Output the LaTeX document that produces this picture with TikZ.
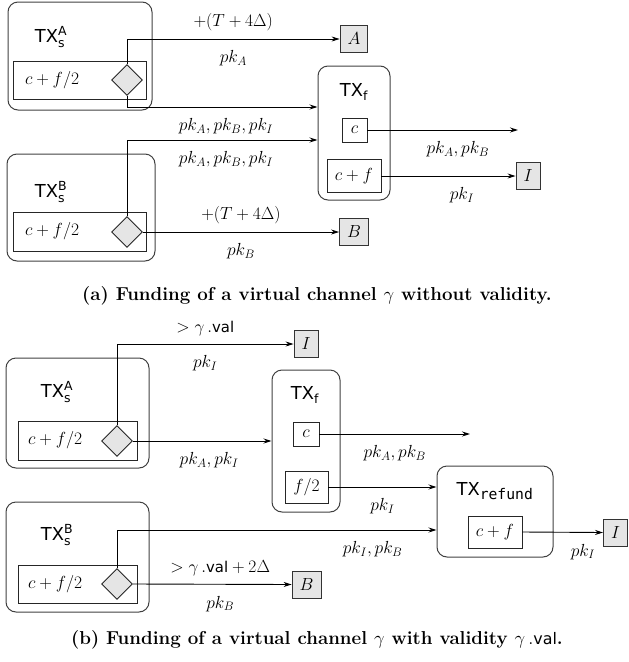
\documentclass[tikz,border=0pt]{standalone}
\usepackage{fix-cm}
\usepackage{amsmath,amssymb}
\usepackage{fontspec}
\setsansfont[Scale=0.85]{DejaVu Sans}
\setmonofont{DejaVu Sans Mono}
\usetikzlibrary{arrows.meta,positioning,calc,shapes.geometric}

\begin{document}
\begin{tikzpicture}[
  x=1pt, y=-1pt,
  >={Stealth[length=8pt, width=5pt]},
  font=\fontsize{17.5}{20}\selectfont,
  txbox/.style={draw=black!75, line width=1pt, rounded corners=10pt, inner sep=0pt},
  outbox/.style={draw=black!85, line width=0.9pt, inner sep=0pt},
  party/.style={draw=black!80, line width=0.9pt, fill=black!10, minimum width=24pt,
                minimum height=27pt, inner xsep=7.5pt, inner ysep=0pt},
  cond/.style={diamond, draw=black!85, line width=0.9pt, fill=black!10,
               minimum width=31pt, minimum height=31pt, inner sep=0pt},
  txname/.style={font=\fontsize{21}{24}\selectfont},
  flow/.style={->, line width=0.9pt},
  lblup/.style={above=4.5pt},
  lbldown/.style={below=8pt},
  captext/.style={font=\fontsize{18.7}{22}\selectfont\bfseries},
]
\useasboundingbox (0,0) rectangle (629,662);

% ---- (a) without validity --------------------------------------------------
\node[txbox, minimum width=144pt, minimum height=108pt] (sa) at (80,56) {};
\node[txname] (sal) at (51,37) {$\textsf{TX}^{\textsf{A}}_{\textsf{s}}$};
\node[outbox, text width=109pt, align=left, inner xsep=12pt, minimum height=38pt]
     (sain) at (79.5,80) {$c+f/2$};
\node[cond] (da) at (127,80) {};

\node[txbox, minimum width=148pt, minimum height=107pt] (sb) at (81,207.5) {};
\node[txname] (sbl) at (51,192) {$\textsf{TX}^{\textsf{B}}_{\textsf{s}}$};
\node[outbox, text width=109pt, align=left, inner xsep=12pt, minimum height=39pt]
     (sbin) at (79.5,231.5) {$c+f/2$};
\node[cond] (db) at (127,232) {};

\node[txbox, minimum width=72pt, minimum height=134pt] (fa) at (354,133) {};
\node[txname] (fal) at (354,92) {$\textsf{TX}_{\textsf{f}}$};
\node[outbox, minimum width=25pt, minimum height=24pt] (fac) at (354.5,130) {$c$};
\node[outbox, minimum width=54pt, minimum height=33pt] (facf) at (354,176) {$c+f$};

\node[party] (pa) at (354,39) {$A$};
\node[party] (pb) at (354,232) {$B$};
\node[party] (pia) at (528,176) {$I$};
\coordinate (enda) at (518,130);

\draw[flow] (da.north) |- node[pos=0.75, lblup] {$+(T+4\Delta)$}
      node[pos=0.75, lbldown] {$pk_A$} (pa.west);
\draw[flow] (da.south) |- node[pos=0.76, lbldown] {$pk_A, pk_B, pk_I$}
      ([yshift=26pt]fa.west);
\draw[flow] (db.north) |- node[pos=0.76, lbldown] {$pk_A, pk_B, pk_I$}
      ([yshift=-7pt]fa.west);
\draw[flow] (db.east) -- node[midway, lblup] {$+(T+4\Delta)$}
      node[midway, lbldown] {$pk_B$} (pb.west);
\draw[flow] (fac.east) -- node[pos=0.6, lbldown] {$pk_A, pk_B$} (enda);
\draw[flow] (facf.east) -- node[pos=0.6, lbldown] {$pk_I$} (pia.west);

\node[captext] (capa) at (317,296) {(a) Funding of a virtual channel $\gamma$ without validity.};

% ---- (b) with validity -----------------------------------------------------
\node[txbox, minimum width=143pt, minimum height=110pt] (sa2) at (77.5,413) {};
\node[txname] (sal2) at (57,392) {$\textsf{TX}^{\textsf{A}}_{\textsf{s}}$};
\node[outbox, text width=99pt, align=left, inner xsep=10pt, minimum height=39pt]
     (sain2) at (77.5,440.5) {$c+f/2$};
\node[cond] (da2) at (117,441) {};

\node[txbox, minimum width=143pt, minimum height=110pt] (sb2) at (77.5,557) {};
\node[txname] (sbl2) at (57,535) {$\textsf{TX}^{\textsf{B}}_{\textsf{s}}$};
\node[outbox, text width=99pt, align=left, inner xsep=10pt, minimum height=38pt]
     (sbin2) at (77.5,584) {$c+f/2$};
\node[cond] (db2) at (117,584) {};

\node[txbox, minimum width=68pt, minimum height=142pt] (fb) at (306,441) {};
\node[txname] (fbl) at (305,395) {$\textsf{TX}_{\textsf{f}}$};
\node[outbox, minimum width=26pt, minimum height=24pt] (fbc) at (306,434) {$c$};
\node[outbox, minimum width=43pt, minimum height=32pt] (fbh) at (306.5,487) {$f/2$};

\node[txbox, minimum width=116pt, minimum height=91pt] (rf) at (495,511.5) {};
\node[txname] (rfl) at (495,491) {$\textsf{TX}_{\texttt{refund}}$};
\node[outbox, minimum width=54pt, minimum height=32pt] (rfcf) at (495,532) {$c+f$};

\node[party] (pi1) at (306,344) {$I$};
\node[party] (pb2) at (306.5,584.5) {$B$};
\node[party] (pi2) at (615.5,532.5) {$I$};
\coordinate (endb) at (470,434);

\draw[flow] (da2.north) |- node[pos=0.75, lblup] {$>\gamma\,.\textsf{val}$}
      node[pos=0.75, lbldown] {$pk_I$} (pi1.west);
\draw[flow] (da2.east) -- node[pos=0.55, lbldown] {$pk_A, pk_I$} (da2.east -| fb.west);
\draw[flow] (fbc.east) -- node[midway, lbldown] {$pk_A, pk_B$} (endb);
\draw[flow] (fbh.east) -- node[midway, lbldown] {$pk_I$} (fbh.east -| rf.west);
\draw[flow] (db2.north) |- node[pos=0.9, lbldown] {$pk_I, pk_B$}
      ([yshift=-18.5pt]rf.west);
\draw[flow] (db2.east) -- node[pos=0.55, lblup] {$>\gamma\,.\textsf{val}+2\Delta$}
      node[pos=0.55, lbldown] {$pk_B$} (pb2.west);
\draw[flow] (rfcf.east) -- node[pos=0.75, lbldown] {$pk_I$} (pi2.west);

\node[captext] (capb) at (317,640) {(b) Funding of a virtual channel $\gamma$ with validity
      $\gamma\,.\textsf{\mdseries val}$.};
\end{tikzpicture}
\end{document}
